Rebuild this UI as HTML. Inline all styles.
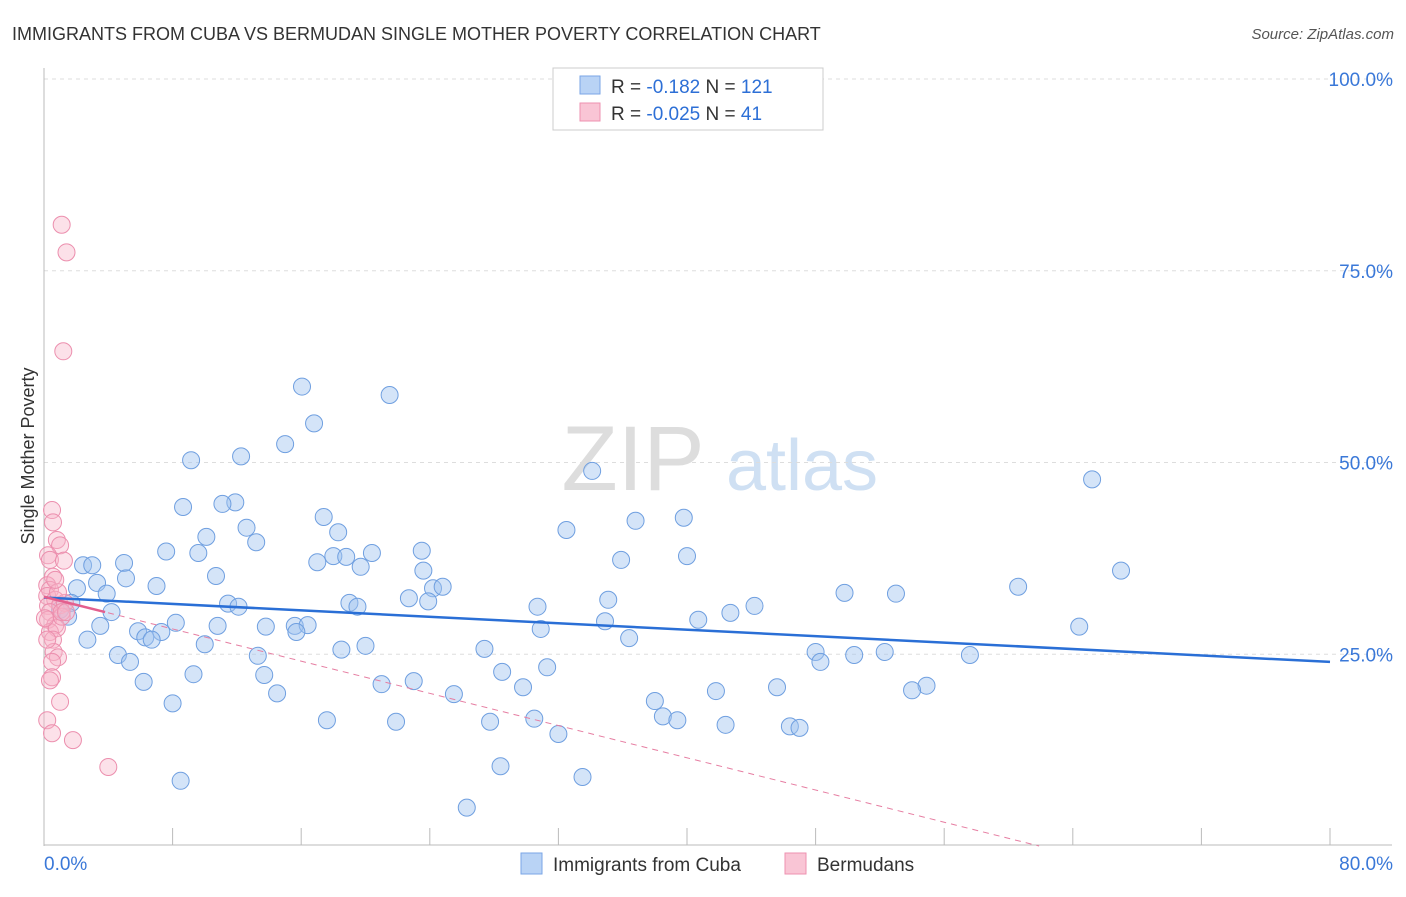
<!DOCTYPE html>
<html><head><meta charset="utf-8"><style>
body{margin:0;background:#fff;font-family:"Liberation Sans",sans-serif}
svg text{font-family:"Liberation Sans",sans-serif}
</style></head><body>
<svg id="c" width="1406" height="892" xmlns="http://www.w3.org/2000/svg">
<text x="12" y="40" font-size="18" fill="#333">IMMIGRANTS FROM CUBA VS BERMUDAN SINGLE MOTHER POVERTY CORRELATION CHART</text>
<text x="1394" y="39" font-size="15" fill="#555" font-style="italic" text-anchor="end">Source: ZipAtlas.com</text>
<text x="34" y="456" font-size="18" fill="#333" text-anchor="middle" transform="rotate(-90 34 456)">Single Mother Poverty</text>
<g><text x="633" y="490" font-size="92" fill="#ddd" font-family="Liberation Serif" text-anchor="middle">ZIP</text><text x="802" y="490" font-size="72" fill="#cfe0f3" text-anchor="middle">atlas</text></g>
<g id="grid"></g><g id="axes"></g><g id="pts"></g><g id="trend"></g>
<g>
<rect x="553" y="68" width="270" height="62" fill="#fff" stroke="#ccc"/>
<rect x="580" y="76" width="20" height="18" fill="#b9d3f5" stroke="#7aa6e6"/>
<rect x="580" y="103" width="20" height="18" fill="#f9c5d5" stroke="#ee91b0"/>
<text x="611" y="93" font-size="19" fill="#333">R =  <tspan fill="#2d6fd6">-0.182</tspan>    N = <tspan fill="#2d6fd6">121</tspan></text>
<text x="611" y="120" font-size="19" fill="#333">R = <tspan fill="#2d6fd6">-0.025</tspan>    N =   <tspan fill="#2d6fd6">41</tspan></text>
</g>
<g>
<rect x="521" y="853" width="21" height="21" fill="#b9d3f5" stroke="#7aa6e6"/>
<text x="553" y="871" font-size="19" fill="#333">Immigrants from Cuba</text>
<rect x="785" y="853" width="21" height="21" fill="#f9c5d5" stroke="#ee91b0"/>
<text x="817" y="871" font-size="19" fill="#333">Bermudans</text>
</g>
</svg>
<script>
const yTicks=[25,50,75,100];
const yTickLabels=["25.0%","50.0%","75.0%","100.0%"];
const xTickVals=[8,16,24,32,40,48,56,64,72,80];
const xEndLabels=["0.0%","80.0%"];
const cubaX=[16.05,21.5,16.8,15.0,9.15,12.26,34.1,65.2,11.9,11.1,8.65,17.4,36.8,39.8,12.6,32.5,18.3,10.1,13.2,7.6,9.6,23.5,20.4,18.0,18.8,40.0,35.9,17.0,19.7,2.43,3.0,4.98,67.0,23.6,10.7,5.1,3.3,7.0,2.05,24.2,24.8,60.6,3.9,49.8,53.0,22.7,23.9,35.1,11.45,12.1,1.7,19.0,19.5,30.7,44.2,42.7,4.2,1.0,1.5,40.7,34.9,8.2,10.8,13.8,15.6,16.4,3.5,15.7,5.85,7.3,30.9,64.4,2.7,6.3,6.7,36.4,10.0,20.0,18.5,27.4,48.0,50.4,52.3,57.6,48.3,4.6,13.3,5.35,31.3,28.5,9.3,13.7,6.2,21.0,23.0,29.8,45.6,54.9,54.0,41.8,14.5,25.5,38.0,8.0,17.6,38.5,39.4,21.9,27.75,30.5,42.4,46.4,47.0,32.0,28.4,33.5,8.5,26.3];
const cubaY=[59.9,58.8,55.1,52.4,50.3,50.8,48.9,47.8,44.8,44.6,44.2,42.9,42.4,42.8,41.5,41.2,40.9,40.3,39.6,38.4,38.2,38.5,38.2,37.8,37.7,37.8,37.3,37.0,36.4,36.6,36.6,36.9,35.9,35.9,35.2,34.9,34.3,33.9,33.6,33.6,33.8,33.8,32.9,33.0,32.9,32.3,31.9,32.1,31.6,31.2,31.7,31.7,31.2,31.2,31.3,30.4,30.5,30.8,29.9,29.5,29.3,29.1,28.7,28.6,28.7,28.8,28.7,27.9,28.0,27.9,28.3,28.6,26.9,27.2,26.9,27.1,26.3,26.1,25.6,25.7,25.3,24.9,25.3,24.9,24.0,24.9,24.8,24.0,23.3,22.7,22.4,22.3,21.4,21.1,21.5,20.7,20.7,20.9,20.3,20.2,19.9,19.8,18.9,18.6,16.4,16.9,16.4,16.2,16.2,16.6,15.8,15.6,15.4,14.6,10.4,9.0,8.5,5.0];
const bermX=[1.1,1.4,1.2,0.5,0.56,0.8,1.0,0.25,0.37,1.24,0.56,0.2,0.37,0.2,0.7,0.25,1.0,1.3,0.37,0.25,0.7,0.37,0.8,0.56,0.6,0.87,0.5,0.5,0.37,1.0,0.2,0.5,1.8,4.0,1.1,0.06,0.87,1.1,0.2,1.37,0.7];
const bermY=[81.0,77.4,64.5,43.8,42.2,39.9,39.2,37.9,37.3,37.2,35.1,34.0,33.4,32.6,32.1,31.3,31.4,31.7,30.5,29.5,28.8,27.9,28.4,26.9,25.3,24.6,24.0,22.0,21.6,18.8,16.4,14.7,13.8,10.3,29.9,29.7,33.1,30.5,26.9,30.5,34.7];
const cubaTrend=[32.4,24.0];      // y at x=0 and x=80
const bermTrend=[32.5,-0.525];    // intercept, slope
const NS="http://www.w3.org/2000/svg";
const X=v=>44+v*16.075, Y=v=>846-v*7.67;
function mk(tag,attrs,parent){const e=document.createElementNS(NS,tag);for(const k in attrs)e.setAttribute(k,attrs[k]);document.getElementById(parent).appendChild(e);return e;}
yTicks.forEach((t,i)=>{
 const g=mk('line',{x1:44,x2:1392,y1:Y(t),y2:Y(t),stroke:'#ddd','stroke-dasharray':'4 4'},'grid');
 
 
 const l=mk('text',{x:1393,y:Y(t)+7,'font-size':19,fill:'#3a78d8','text-anchor':'end'},'grid');
 l.textContent=yTickLabels[i];
 
 
});
let a=mk('line',{x1:44,x2:44,y1:68,y2:846,stroke:'#bbb'},'axes');


a=mk('line',{x1:44,x2:1392,y1:845,y2:845,stroke:'#bbb'},'axes');


xTickVals.forEach(t=>{const k=mk('line',{x1:X(t),x2:X(t),y1:828,y2:845,stroke:'#bbb'},'axes');
 
 });
let tl=mk('text',{x:44,y:870,'font-size':19,fill:'#3a78d8'},'axes');tl.textContent=xEndLabels[0];


tl=mk('text',{x:1393,y:870,'font-size':19,fill:'#3a78d8','text-anchor':'end'},'axes');tl.textContent=xEndLabels[1];


cubaX.forEach((x,i)=>{const c=mk('circle',{cx:X(x),cy:Y(cubaY[i]),r:8.5,fill:'rgba(160,196,240,0.45)',stroke:'#6f9fe0','stroke-width':1},'pts');
 
 });
bermX.forEach((x,i)=>{const c=mk('circle',{cx:X(x),cy:Y(bermY[i]),r:8.5,fill:'rgba(248,180,200,0.4)',stroke:'#ec8fae','stroke-width':1},'pts');
 
 });
let t=mk('line',{x1:X(0),y1:Y(cubaTrend[0]),x2:X(80),y2:Y(cubaTrend[1]),stroke:'#2a6fd6','stroke-width':2.5},'trend');


const x0=-bermTrend[0]/bermTrend[1];
t=mk('line',{x1:X(0),y1:Y(bermTrend[0]),x2:X(x0),y2:Y(0),stroke:'#e67ea2','stroke-width':1,'stroke-dasharray':'6 5'},'trend');


t=mk('line',{x1:X(0),y1:Y(bermTrend[0]),x2:X(3.8),y2:Y(bermTrend[0]+bermTrend[1]*3.8),stroke:'#e35f8e','stroke-width':2.5},'trend');


</script>
</body></html>
